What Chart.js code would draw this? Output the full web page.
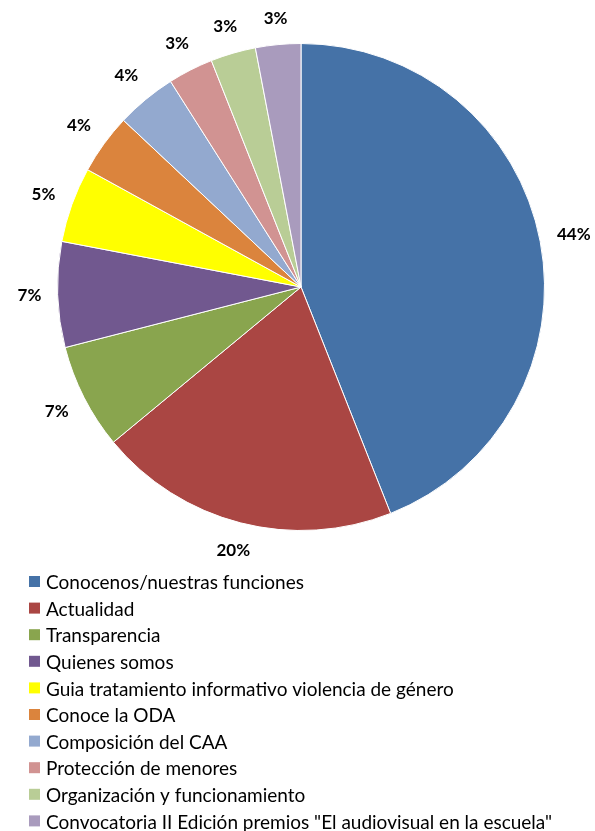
<!DOCTYPE html>
<html>
<head>
<meta charset="utf-8">
<script src="https://cdn.jsdelivr.net/npm/chart.js@4"></script>
<style>
  html, body { margin: 0; padding: 0; background: #fff; }
  #wrap { width: 595px; height: 831px; position: relative; }
</style>
</head>
<body>
<div id="wrap"><canvas id="pieChart" width="595" height="831"></canvas></div>
<script>
//sections of the site
var secciones = [
  'Conocenos/nuestras funciones',
  'Actualidad',
  'Transparencia',
  'Quienes somos',
  'Guia tratamiento informativo violencia de género',
  'Conoce la ODA',
  'Composición del CAA',
  'Protección de menores',
  'Organización y funcionamiento',
  'Convocatoria II Edición premios "El audiovisual en la escuela"'
];
//share of visits (%)
var porcentajes = [44, 20, 7, 7, 5, 4, 4, 3, 3, 3];
var colores = ['#4572A7', '#AA4643', '#89A54E', '#71588F', '#FFFF00',
  '#DB843D', '#93A9CF', '#D19392', '#B9CD96', '#A99BBD'];

//percent labels outside each slice, box edge kept a fixed gap from the rim
var outsideLabels = {
  id: 'outsideLabels',
  afterDatasetsDraw: function (chart) {
    var ctx = chart.ctx;
    var meta = chart.getDatasetMeta(0);
    ctx.save();
    ctx.font = 'bold 17px Lato';
    ctx.fillStyle = '#000';
    ctx.textAlign = 'center';
    ctx.textBaseline = 'middle';
    meta.data.forEach(function (arc, i) {
      var txt = porcentajes[i] + '%';
      var hw = ctx.measureText(txt).width / 2;
      var hh = 9;
      var mid = (arc.startAngle + arc.endAngle) / 2;
      var c = Math.cos(mid), s = Math.sin(mid);
      var r = arc.outerRadius + 16 + Math.abs(c) * hw + Math.abs(s) * hh;
      ctx.fillText(txt, arc.x + c * r, arc.y + s * r);
    });
    ctx.restore();
  }
};

//legend list under the pie
var listLegend = {
  id: 'listLegend',
  afterDraw: function (chart) {
    var ctx = chart.ctx;
    ctx.save();
    ctx.font = '19px Lato';
    ctx.textBaseline = 'middle';
    for (var i = 0; i < secciones.length; i++) {
      var y = 582 + i * 26.6;
      ctx.fillStyle = colores[i];
      ctx.fillRect(29, y - 6, 11, 11);
      ctx.fillStyle = '#000';
      ctx.fillText(secciones[i], 46, y + 1);
    }
    ctx.restore();
  }
};

var ctx = document.getElementById('pieChart').getContext('2d');
var myChart = new Chart(ctx, {
  type: 'pie',
  data: {
    labels: secciones,
    datasets: [{
      data: porcentajes,
      backgroundColor: colores,
      borderColor: '#fff',
      borderWidth: 1
    }]
  },
  options: {
    responsive: false,
    animation: false,
    layout: { padding: { left: 57, right: 50, top: 43, bottom: 300 } },
    plugins: {
      legend: { display: false },
      tooltip: { enabled: false }
    }
  },
  plugins: [outsideLabels, listLegend]
});
</script>
</body>
</html>
